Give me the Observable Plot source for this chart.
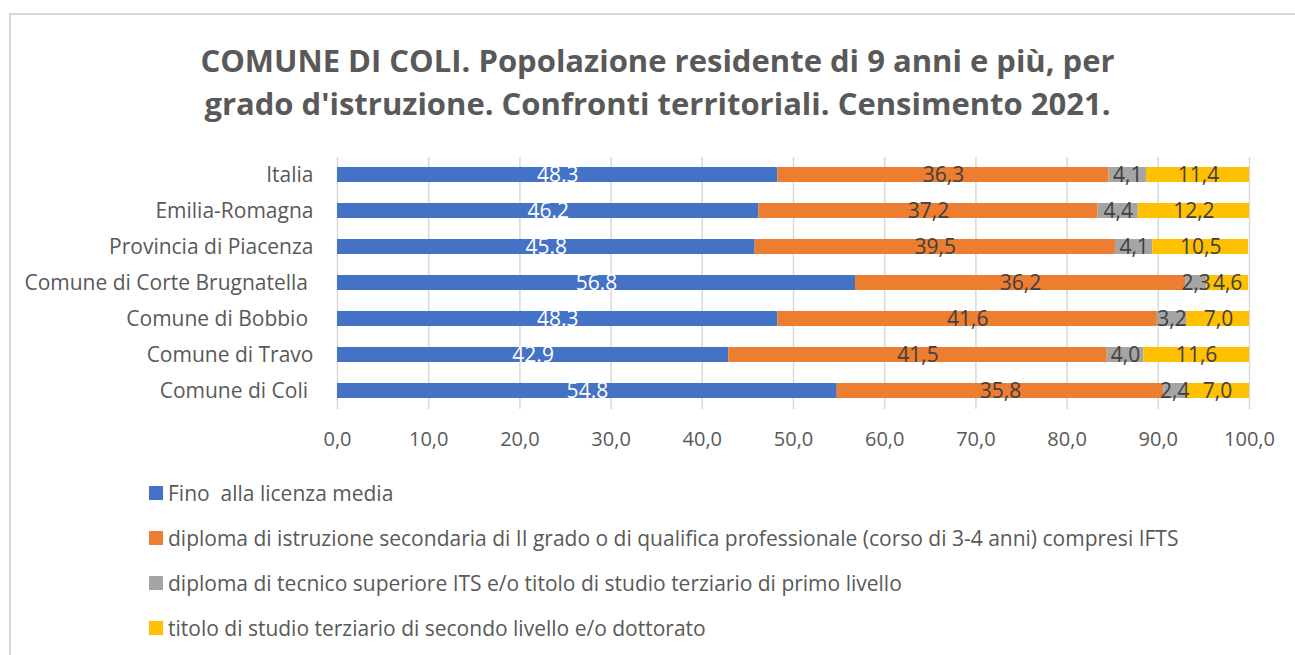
<!DOCTYPE html>
<html>
<head>
<meta charset="utf-8">
<script src="https://cdn.jsdelivr.net/npm/d3@7"></script>
<script src="https://cdn.jsdelivr.net/npm/@observablehq/plot@0.6"></script>
<style>
  html, body { margin: 0; padding: 0; background: #fff; }
  #wrap { position: relative; width: 1295px; height: 655px; overflow: hidden; font-family: "Open Sans", Lato, sans-serif; color: #595959; }
  #border { position: absolute; left: 9px; top: 13px; width: 1400px; height: 800px; border: 2px solid #d9d9d9; box-sizing: border-box; }
  #title { position: absolute; left: 0; top: 39px; width: 1315px; text-align: center; font-weight: bold; font-size: 31px; line-height: 43px; color: #595959; }
  #chart { position: absolute; left: 0; top: 141px; }
  #legend { position: absolute; left: 149px; top: 470px; }
  .item { height: 45px; display: flex; align-items: center; font-size: 21px; white-space: pre; }
  .sw { width: 14px; height: 14px; margin-right: 5px; flex: none; }
</style>
</head>
<body>
<div id="wrap">
  <div id="border"></div>
  <div id="title">COMUNE DI COLI. Popolazione residente di 9 anni e più, per<br>grado d'istruzione. Confronti territoriali. Censimento 2021.</div>
  <div id="chart"></div>
  <div id="legend"></div>
</div>
<script>
const regions = ["Italia", "Emilia-Romagna", "Provincia di Piacenza", "Comune di Corte Brugnatella\u00a0", "Comune di Bobbio\u00a0", "Comune di Travo", "Comune di Coli\u00a0"];
const series = [
  "Fino  alla licenza media",
  "diploma di istruzione secondaria di II grado o di qualifica professionale (corso di 3-4 anni) compresi IFTS",
  "diploma di tecnico superiore ITS e/o titolo di studio terziario di primo livello",
  "titolo di studio terziario di secondo livello e/o dottorato"
];
const colors = ["#4472C4", "#ED7D31", "#A5A5A5", "#FFC000"];
const licenzaMedia = [48.3, 46.2, 45.8, 56.8, 48.3, 42.9, 54.8];
const diplomaSecondaria = [36.3, 37.2, 39.5, 36.2, 41.6, 41.5, 35.8];
const diplomaITS = [4.1, 4.4, 4.1, 2.3, 3.2, 4.0, 2.4];
const terziarioSecondo = [11.4, 12.2, 10.5, 4.6, 7.0, 11.6, 7.0];
const xTicks = [0, 10, 20, 30, 40, 50, 60, 70, 80, 90, 100];

const valuesBySeries = [licenzaMedia, diplomaSecondaria, diplomaITS, terziarioSecondo];
const data = [];
series.forEach((s, si) => regions.forEach((r, ri) => data.push({region: r, cat: s, si, value: valuesBySeries[si][ri]})));

const fmtComma = v => v.toFixed(1).replace(".", ",");
const fmtDot = v => v.toFixed(1);

const chart = Plot.plot({
  width: 1295,
  height: 320,
  marginLeft: 337,
  marginRight: 46,
  marginTop: 16,
  marginBottom: 52,
  style: {fontFamily: "'Open Sans', Lato, sans-serif", fontSize: "21px", color: "#595959", background: "transparent"},
  x: {domain: [0, 100], ticks: xTicks, tickFormat: fmtComma, label: null},
  y: {domain: regions, paddingInner: 0.58, paddingOuter: 0.29, label: null},
  color: {domain: series, range: colors},
  marks: [
    Plot.gridX(xTicks.filter(t => t > 0), {stroke: "#d9d9d9", strokeOpacity: 1, strokeWidth: 1.5}),
    Plot.ruleX([0], {stroke: "#d9d9d9", strokeWidth: 1.5}),
    Plot.barX(data, Plot.stackX({x: "value", y: "region", fill: "cat", z: "cat", clip: true})),
    Plot.text(data, Plot.stackX({x: "value", y: "region", z: "cat",
      text: d => d.si === 0 ? fmtDot(d.value) : fmtComma(d.value),
      fill: d => d.si === 0 ? "#ffffff" : "#404040",
      fontSize: 21})),
    Plot.axisX({ticks: xTicks, tickFormat: fmtComma, tickSize: 0, tickPadding: 22, fill: "#595959", fontSize: 20}),
    Plot.axisY({tickSize: 0, tickPadding: 24, fill: "#595959", fontSize: 21})
  ]
});
document.getElementById("chart").appendChild(chart);

const legend = document.getElementById("legend");
series.forEach((s, i) => {
  const item = document.createElement("div");
  item.className = "item";
  const sw = document.createElement("span");
  sw.className = "sw";
  sw.style.background = colors[i];
  const t = document.createElement("span");
  t.textContent = s;
  item.appendChild(sw);
  item.appendChild(t);
  legend.appendChild(item);
});
</script>
</body>
</html>
